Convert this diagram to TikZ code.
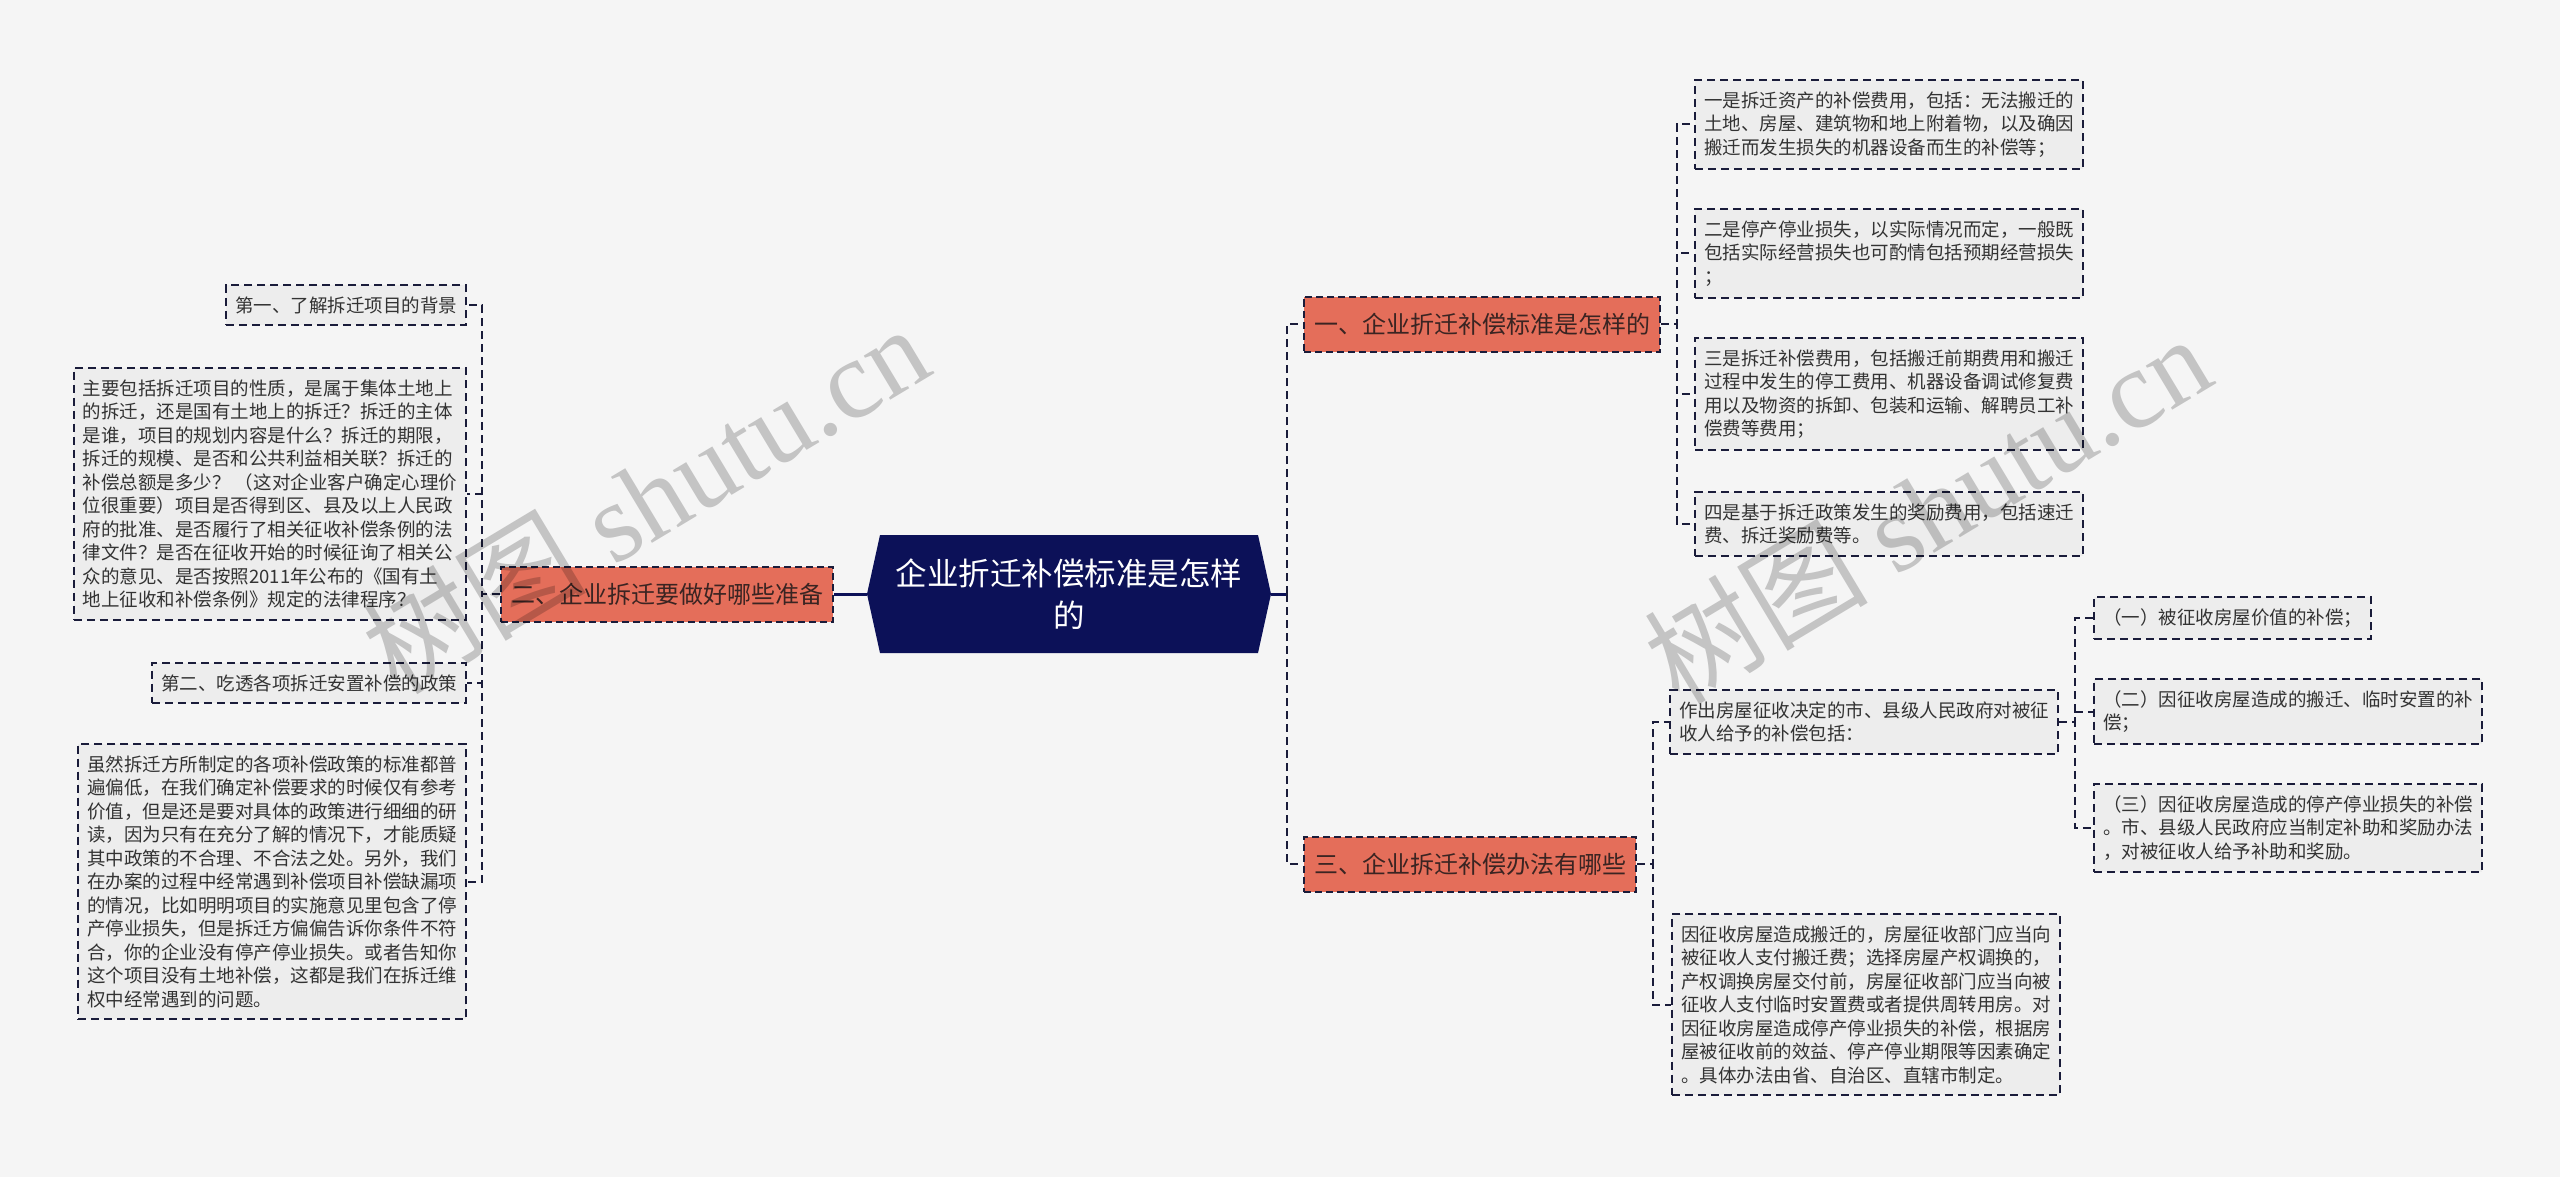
\documentclass[tikz,border=0pt]{standalone}
\usepackage{fontspec}
\newfontfamily\cjk{Noto Sans CJK SC}
\newfontfamily\wmserif{Liberation Serif}
\definecolor{pagebg}{RGB}{245,245,245}
\definecolor{rootfill}{RGB}{12,17,88}
\definecolor{branchfill}{RGB}{228,110,90}
\definecolor{branchtext}{RGB}{58,36,34}
\definecolor{leaffill}{RGB}{237,237,237}
\definecolor{leaftext}{RGB}{51,51,51}
\definecolor{edgeline}{RGB}{26,28,58}
\begin{document}
\begin{tikzpicture}[
    x=1pt, y=-1pt,
    leaf/.style={draw=edgeline, line width=2pt, dash pattern=on 8pt off 5pt, fill=leaffill, text=leaftext, align=left, inner xsep=9pt, inner ysep=11.5pt, font=\cjk\fontsize{18.5}{23.5}\selectfont},
    branch/.style={draw=edgeline, line width=2pt, dash pattern=on 7pt off 4pt, fill=branchfill, text=branchtext, inner xsep=10pt, minimum height=55pt, font=\cjk\fontsize{24}{29}\selectfont},
    link/.style={edgeline, line width=2pt, dash pattern=on 8pt off 5pt},
    trunk/.style={rootfill, line width=3pt},
    watermark/.style={text=black, opacity=0.2, rotate=31, font=\wmserif\fontsize{112}{112}\selectfont}
  ]
    \fill[pagebg] (0,0) rectangle (2560,1177);
    \useasboundingbox (0,0) rectangle (2560,1177);

    \fill[rootfill] (867,594) -- (880,535) -- (1258,535) -- (1271,594) -- (1258,653) -- (880,653) -- cycle;
    \node[minimum width=404pt, minimum height=118pt, inner sep=0pt, align=center, text=white, font=\cjk\fontsize{31.5}{42}\selectfont] (root) at (1069,594) {企业折迁补偿标准是怎样\\的};

    \node[branch, anchor=east] (b2) at (834,594) {二、企业拆迁要做好哪些准备};
    \node[branch, anchor=west] (b1) at (1303,324) {一、企业折迁补偿标准是怎样的};
    \node[branch, anchor=west] (b3) at (1303,864) {三、企业拆迁补偿办法有哪些};

    \node[leaf, anchor=north east] (l1) at (467,284) {第一、了解拆迁项目的背景};
    \node[leaf, anchor=north east] (l2) at (467,367) {主要包括拆迁项目的性质，是属于集体土地上\\的拆迁，还是国有土地上的拆迁？拆迁的主体\\是谁，项目的规划内容是什么？拆迁的期限，\\拆迁的规模、是否和公共利益相关联？拆迁的\\补偿总额是多少？ （这对企业客户确定心理价\\位很重要）项目是否得到区、县及以上人民政\\府的批准、是否履行了相关征收补偿条例的法\\律文件？是否在征收开始的时候征询了相关公\\众的意见、是否按照2011年公布的《国有土\\地上征收和补偿条例》规定的法律程序？};
    \node[leaf, anchor=north east] (l3) at (467,662) {第二、吃透各项拆迁安置补偿的政策};
    \node[leaf, anchor=north east] (l4) at (467,743) {虽然拆迁方所制定的各项补偿政策的标准都普\\遍偏低，在我们确定补偿要求的时候仅有参考\\价值，但是还是要对具体的政策进行细细的研\\读，因为只有在充分了解的情况下，才能质疑\\其中政策的不合理、不合法之处。另外，我们\\在办案的过程中经常遇到补偿项目补偿缺漏项\\的情况，比如明明项目的实施意见里包含了停\\产停业损失，但是拆迁方偏偏告诉你条件不符\\合，你的企业没有停产停业损失。或者告知你\\这个项目没有土地补偿，这都是我们在拆迁维\\权中经常遇到的问题。};

    \node[leaf, anchor=north west] (r1) at (1694,79) {一是拆迁资产的补偿费用，包括：无法搬迁的\\土地、房屋、建筑物和地上附着物，以及确因\\搬迁而发生损失的机器设备而生的补偿等；};
    \node[leaf, anchor=north west] (r2) at (1694,208) {二是停产停业损失，以实际情况而定，一般既\\包括实际经营损失也可酌情包括预期经营损失\\；};
    \node[leaf, anchor=north west] (r3) at (1694,337) {三是拆迁补偿费用，包括搬迁前期费用和搬迁\\过程中发生的停工费用、机器设备调试修复费\\用以及物资的拆卸、包装和运输、解聘员工补\\偿费等费用；};
    \node[leaf, anchor=north west] (r4) at (1694,491) {四是基于拆迁政策发生的奖励费用，包括速迁\\费、拆迁奖励费等。};

    \node[leaf, anchor=north west] (s0) at (1669,689) {作出房屋征收决定的市、县级人民政府对被征\\收人给予的补偿包括：};
    \node[leaf, anchor=north west] (s1) at (1671,913) {因征收房屋造成搬迁的，房屋征收部门应当向\\被征收人支付搬迁费；选择房屋产权调换的，\\产权调换房屋交付前，房屋征收部门应当向被\\征收人支付临时安置费或者提供周转用房。对\\因征收房屋造成停产停业损失的补偿，根据房\\屋被征收前的效益、停产停业期限等因素确定\\。具体办法由省、自治区、直辖市制定。};

    \node[leaf, anchor=north west] (t1) at (2093,596) {（一）被征收房屋价值的补偿；};
    \node[leaf, anchor=north west] (t2) at (2093,678) {（二）因征收房屋造成的搬迁、临时安置的补\\偿；};
    \node[leaf, anchor=north west] (t3) at (2093,783) {（三）因征收房屋造成的停产停业损失的补偿\\。市、县级人民政府应当制定补助和奖励办法\\，对被征收人给予补助和奖励。};

    \draw[trunk] (root.west) -- (b2.east);
    \draw[trunk] (root.east) -- ++(16,0) coordinate (rj);
    \draw[link] (rj) |- (b1.west);
    \draw[link] (rj) |- (b3.west);
    \foreach \c in {l1,l2,l3,l4} \draw[link] (b2.west) -- ++(-18,0) |- (\c.east);
    \foreach \c in {r1,r2,r3,r4} \draw[link] (b1.east) -- ++(16,0) |- (\c.west);
    \foreach \c in {s0,s1} \draw[link] (b3.east) -- ++(16,0) |- (\c.west);
    \foreach \c in {t1,t2,t3} \draw[link] (s0.east) -- ++(16,0) |- (\c.west);

    \node[watermark] (wm1) at (645,498) {{\cjk 树图} shutu.cn};
    \node[watermark] (wm2) at (1927,508) {{\cjk 树图} shutu.cn};
  \end{tikzpicture}
\end{document}
